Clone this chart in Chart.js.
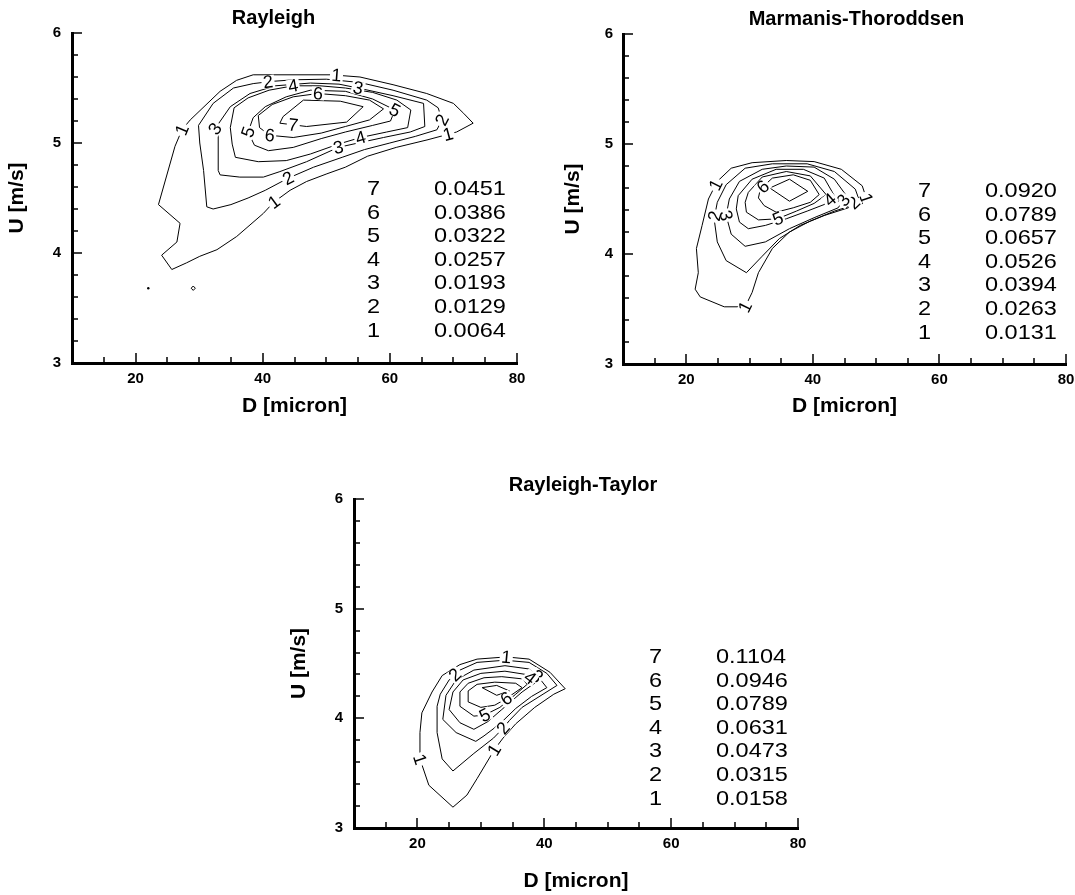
<!DOCTYPE html>
<html>
<head>
<meta charset="utf-8">
<title>Contours</title>
<script src="https://cdn.jsdelivr.net/npm/chart.js@4.4.1/dist/chart.umd.min.js"></script>
<style>
  html, body { margin: 0; padding: 0; background: #fff; overflow: hidden; }
  #page { position: relative; width: 1075px; height: 895px; }
  canvas { position: absolute; }
</style>
</head>
<body>
<div id="page">
  <canvas id="rayleigh" width="540" height="430" style="left:0px;top:0px"></canvas>
  <canvas id="marmanis" width="535" height="430" style="left:540px;top:0px"></canvas>
  <canvas id="taylor" width="540" height="455" style="left:280px;top:440px"></canvas>
</div>
<script>
// axes
const xTicks = [20, 40, 60, 80];
const yTicks = [3, 4, 5, 6];
const xMinorStep = 5;
const yMinorStep = 0.2;
const levelIds = [1, 2, 3, 4, 5, 6, 7];

// Rayleigh
const rayleighValues = [0.0064, 0.0129, 0.0193, 0.0257, 0.0322, 0.0386, 0.0451];
const rayleighContours = [
  [[25.7,3.85],[24.1,3.98],[26.5,4.10],[27.0,4.27],[23.6,4.44],[26.2,4.97],[27.3,5.12],[28.6,5.21],[33.3,5.47],[35.9,5.57],[38.5,5.62],[50.8,5.62],[55.3,5.60],[60.5,5.53],[65.8,5.45],[70.0,5.36],[71.6,5.27],[73.1,5.18],[70.5,5.10],[66.0,5.03],[61.0,4.96],[56.5,4.88],[53.0,4.78],[50.1,4.72],[46.9,4.65],[44.3,4.57],[41.7,4.46],[40.1,4.36],[35.9,4.15],[32.8,4.03],[30.1,3.97],[28.0,3.91]],
  [[41.4,5.56],[38.5,5.54],[35.4,5.50],[32.2,5.36],[29.9,5.16],[30.1,5.00],[30.7,4.75],[31.2,4.42],[32.2,4.40],[35.0,4.44],[37.7,4.50],[40.4,4.57],[44.0,4.68],[48.0,4.78],[52.5,4.87],[56.0,4.94],[60.0,5.00],[64.0,5.06],[67.4,5.12],[68.2,5.21],[67.6,5.32],[65.8,5.39],[60.5,5.48],[55.3,5.55],[50.0,5.58],[45.0,5.575]],
  [[32.5,5.13],[34.9,5.33],[38.0,5.45],[42.0,5.52],[47.5,5.545],[52.0,5.535],[55.0,5.50],[60.5,5.43],[65.3,5.36],[65.5,5.15],[63.2,5.10],[59.0,5.05],[55.0,5.00],[51.9,4.96],[46.9,4.83],[42.7,4.74],[40.1,4.69],[36.4,4.69],[33.3,4.71],[33.0,4.75],[33.0,5.06]],
  [[44.8,5.52],[41.0,5.48],[37.7,5.41],[35.5,5.32],[34.9,5.14],[35.2,4.99],[35.7,4.87],[39.3,4.83],[43.7,4.84],[47.5,4.90],[51.9,4.99],[55.4,5.05],[59.5,5.10],[62.8,5.14],[63.3,5.30],[61.1,5.39],[57.3,5.46],[53.0,5.50],[49.0,5.52]],
  [[37.7,5.10],[38.5,5.23],[40.4,5.33],[43.7,5.42],[47.5,5.48],[53.0,5.47],[57.3,5.40],[60.8,5.30],[60.1,5.20],[57.3,5.16],[53.0,5.10],[49.2,5.04],[44.8,4.96],[40.9,4.93],[38.7,4.98]],
  [[48.7,5.45],[53.0,5.43],[56.8,5.39],[59.0,5.31],[56.8,5.21],[53.0,5.15],[49.2,5.09],[44.8,5.05],[41.1,5.07],[39.5,5.14],[39.3,5.25],[41.5,5.35],[44.8,5.42]],
  [[42.7,5.18],[43.2,5.24],[46.4,5.39],[52.2,5.38],[55.8,5.33],[53.2,5.19],[46.9,5.15]]
];
const rayleighIslands = [[[28.75,3.68],[29.07,3.70],[29.4,3.68],[29.07,3.66]]];
const rayleighDots = [[22.0,3.68]];
const rayleighLabels = [
  [1,27.3,5.12],[1,51.6,5.61],[1,69.2,5.07],[1,41.7,4.47],
  [2,40.8,5.57],[2,44.0,4.68],[2,68.2,5.21],
  [3,32.5,5.13],[3,51.9,4.96],[3,55.0,5.50],
  [4,44.8,5.51],[4,55.4,5.05],
  [5,37.7,5.10],[5,60.8,5.30],
  [6,48.7,5.45],[6,41.1,5.07],
  [7,44.8,5.16]
];

// Marmanis-Thoroddsen
const marmanisValues = [0.0131, 0.0263, 0.0394, 0.0526, 0.0657, 0.0789, 0.0920];
const marmanisContours = [
  [[23.5,4.50],[24.9,4.66],[27.1,4.78],[30.4,4.83],[35.8,4.85],[40.2,4.84],[44.5,4.77],[47.8,4.62],[48.6,4.48],[46.7,4.45],[43.4,4.39],[39.6,4.30],[36.3,4.20],[33.6,4.05],[31.4,3.83],[30.4,3.65],[29.3,3.52],[26.0,3.52],[22.2,3.61],[21.4,3.68],[21.9,3.83],[21.6,4.05],[22.5,4.26]],
  [[24.9,4.47],[26.3,4.63],[29.3,4.78],[33.6,4.82],[39.1,4.82],[43.4,4.75],[46.7,4.59],[47.2,4.51],[45.6,4.42],[41.8,4.35],[38.0,4.26],[34.7,4.14],[32.0,3.98],[29.5,3.83],[26.3,3.94],[24.9,4.11],[24.4,4.32]],
  [[26.8,4.50],[28.4,4.66],[32.0,4.77],[35.8,4.80],[40.2,4.79],[43.4,4.68],[45.3,4.53],[44.0,4.42],[40.2,4.33],[36.3,4.23],[32.5,4.11],[29.3,4.07],[27.1,4.18],[26.3,4.35]],
  [[28.2,4.53],[30.4,4.68],[34.2,4.77],[38.5,4.77],[41.8,4.69],[43.4,4.53],[41.8,4.45],[39.1,4.39],[35.8,4.32],[32.5,4.26],[29.8,4.23],[28.4,4.29],[27.9,4.41]],
  [[29.8,4.56],[32.0,4.70],[35.8,4.75],[39.6,4.71],[42.1,4.54],[40.2,4.46],[37.4,4.39],[34.4,4.32],[31.4,4.31],[29.5,4.38],[29.3,4.47]],
  [[31.7,4.59],[33.6,4.69],[36.9,4.72],[39.6,4.67],[41.0,4.54],[39.6,4.47],[36.9,4.42],[34.2,4.38],[32.3,4.44],[31.4,4.51]],
  [[33.2,4.60],[36.3,4.68],[39.2,4.57],[36.3,4.48]]
];
const marmanisLabels = [
  [1,24.6,4.63],[1,29.3,3.52],[1,48.1,4.50],
  [2,46.2,4.48],[2,24.1,4.35],
  [3,44.5,4.50],[3,25.7,4.35],
  [4,42.6,4.50],
  [5,34.4,4.33],
  [6,32.0,4.62]
];

// Rayleigh-Taylor
const taylorValues = [0.0158, 0.0315, 0.0473, 0.0631, 0.0789, 0.0946, 0.1104];
const taylorContours = [
  [[20.4,3.87],[20.7,4.05],[22.3,4.24],[23.9,4.39],[26.7,4.49],[29.4,4.54],[34.0,4.56],[37.6,4.54],[40.9,4.42],[43.3,4.27],[41.5,4.22],[38.5,4.10],[35.5,3.95],[33.5,3.82],[32.2,3.72],[29.4,3.45],[27.8,3.30],[25.6,3.19],[21.8,3.39],[20.4,3.63]],
  [[23.1,3.87],[23.1,4.11],[23.6,4.22],[25.0,4.35],[26.7,4.44],[29.4,4.51],[33.8,4.53],[37.6,4.51],[40.4,4.41],[42.0,4.30],[39.8,4.22],[36.5,4.10],[34.5,3.98],[33.5,3.91],[32.0,3.82],[28.9,3.68],[25.6,3.52],[23.9,3.63]],
  [[24.0,3.99],[24.5,4.21],[26.1,4.35],[28.9,4.44],[33.8,4.48],[37.6,4.45],[39.3,4.36],[40.4,4.28],[38.0,4.20],[35.5,4.09],[33.0,3.95],[30.5,3.84],[29.2,3.79],[26.1,3.87]],
  [[25.0,4.08],[25.6,4.24],[27.2,4.35],[30.0,4.41],[33.8,4.43],[37.1,4.40],[38.7,4.33],[36.5,4.24],[33.3,4.08],[31.1,3.97],[28.9,3.90],[26.7,3.96]],
  [[26.7,4.11],[26.7,4.24],[28.0,4.32],[30.5,4.37],[33.3,4.38],[36.5,4.36],[37.3,4.31],[35.5,4.22],[33.0,4.10],[30.6,4.03],[28.9,4.02]],
  [[28.0,4.15],[28.0,4.25],[29.4,4.31],[32.2,4.33],[35.5,4.32],[36.5,4.28],[34.0,4.18],[32.2,4.12],[30.0,4.10]],
  [[30.2,4.28],[32.5,4.30],[34.5,4.25],[32.5,4.21]]
];
const taylorLabels = [
  [1,34.0,4.55],[1,20.1,3.62],[1,32.2,3.71],
  [2,25.9,4.40],[2,33.5,3.91],
  [3,38.8,4.38],[4,37.5,4.35],
  [5,30.6,4.03],[6,34.0,4.18]
];

const FONT = "'Liberation Sans', Arial, Helvetica, sans-serif";

function lineSet(path) {
  return {
    data: path.concat([path[0]]).map(([x, y]) => ({x, y})),
    showLine: true, fill: false, tension: 0,
    borderColor: '#000', borderWidth: 1, pointRadius: 0
  };
}

function nearestOnPath(pts, p) {
  let best = null;
  for (let i = 0; i < pts.length - 1; i++) {
    const a = pts[i], b = pts[i + 1];
    const dx = b.x - a.x, dy = b.y - a.y;
    const l2 = dx * dx + dy * dy || 1;
    let t = ((p.x - a.x) * dx + (p.y - a.y) * dy) / l2;
    t = Math.max(0, Math.min(1, t));
    const qx = a.x + t * dx, qy = a.y + t * dy;
    const d = (qx - p.x) ** 2 + (qy - p.y) ** 2;
    if (!best || d < best.d) best = {x: qx, y: qy, d, ang: Math.atan2(dy, dx)};
  }
  return best;
}

function makePanel(id, o) {
  const datasets = o.contours.map(lineSet);
  (o.islands || []).forEach(p => datasets.push(lineSet(p)));
  if (o.dots) {
    datasets.push({
      data: o.dots.map(([x, y]) => ({x, y})), showLine: false,
      pointRadius: 1.2, pointBackgroundColor: '#000', pointBorderWidth: 0
    });
  }

  const textPlugin = {
    id: 'panelText',
    afterDatasetsDraw(chart) {
      const {ctx, chartArea: ca} = chart;
      const xs = chart.scales.x, ys = chart.scales.y;
      ctx.save();

      // inward tick marks
      ctx.strokeStyle = '#000';
      ctx.lineWidth = 1.5;
      ctx.beginPath();
      for (let v = xs.min + xMinorStep; v <= xs.max + 1e-9; v += xMinorStep) {
        const px = Math.round(xs.getPixelForValue(v));
        const len = xTicks.includes(v) ? 10 : 6;
        ctx.moveTo(px, ca.bottom);
        ctx.lineTo(px, ca.bottom - len);
      }
      const nY = Math.round((ys.max - ys.min) / yMinorStep);
      for (let i = 1; i <= nY; i++) {
        const v = ys.min + i * yMinorStep;
        const py = Math.round(ys.getPixelForValue(v));
        const len = Math.abs(v - Math.round(v)) < 1e-6 ? 10 : 6;
        ctx.moveTo(ca.left, py);
        ctx.lineTo(ca.left + len, py);
      }
      ctx.stroke();

      // contour labels, set along their line
      ctx.font = '18px ' + FONT;
      ctx.textAlign = 'center';
      ctx.textBaseline = 'middle';
      o.labels.forEach(([lvl, d, u]) => {
        const pts = o.contours[lvl - 1].concat([o.contours[lvl - 1][0]])
          .map(([x, y]) => ({x: xs.getPixelForValue(x), y: ys.getPixelForValue(y)}));
        const q = nearestOnPath(pts, {x: xs.getPixelForValue(d), y: ys.getPixelForValue(u)});
        let ang = q.ang;
        if (ang > Math.PI / 2) ang -= Math.PI;
        if (ang < -Math.PI / 2) ang += Math.PI;
        const txt = String(levelIds[lvl - 1]);
        const w = ctx.measureText(txt).width;
        ctx.save();
        ctx.translate(q.x, q.y);
        ctx.rotate(ang);
        ctx.fillStyle = '#fff';
        ctx.fillRect(-w / 2 - 1.5, -6.5, w + 3, 13);
        ctx.fillStyle = '#000';
        ctx.fillText(txt, 0, 1);
        ctx.restore();
      });

      // title
      ctx.font = 'bold 20px ' + FONT;
      ctx.textAlign = 'center';
      ctx.textBaseline = 'alphabetic';
      ctx.fillStyle = '#000';
      ctx.fillText(o.title, (ca.left + ca.right) / 2 + o.titleDx, ca.top - o.titleDy);

      // level table
      ctx.font = '21px ' + FONT;
      ctx.textAlign = 'left';
      for (let i = levelIds.length - 1; i >= 0; i--) {
        const row = levelIds.length - 1 - i;
        const y = ca.top + o.tableY + row * 23.6;
        ctx.save();
        ctx.translate(ca.left + 295, y);
        ctx.scale(1.12, 1);
        ctx.fillText(String(levelIds[i]), 0, 0);
        ctx.restore();
        ctx.save();
        ctx.translate(ca.left + 362, y);
        ctx.scale(1.12, 1);
        ctx.fillText(o.values[i].toFixed(4), 0, 0);
        ctx.restore();
      }
      ctx.restore();
    }
  };

  return new Chart(document.getElementById(id), {
    type: 'scatter',
    data: {datasets},
    options: {
      responsive: false,
      animation: false,
      devicePixelRatio: 1,
      events: [],
      layout: {padding: o.pad},
      plugins: {legend: {display: false}, tooltip: {enabled: false}},
      scales: {
        x: {
          type: 'linear', min: 10, max: 80,
          afterBuildTicks: s => { s.ticks = xTicks.map(v => ({value: v})); },
          afterFit: s => { s.height = o.xHeight; s.paddingLeft = 0; s.paddingRight = 0; },
          grid: {display: false, drawTicks: false},
          border: {display: true, color: '#000', width: 3},
          ticks: {color: '#000', padding: 7, autoSkip: false, maxRotation: 0,
                  font: {family: FONT, size: 15, weight: 'bold'}},
          title: {display: true, text: 'D [micron]', color: '#000',
                  font: {family: FONT, size: 21, weight: 'bold'},
                  padding: {top: 0, bottom: o.xTitlePad}}
        },
        y: {
          type: 'linear', min: 3, max: 6,
          afterBuildTicks: s => { s.ticks = yTicks.map(v => ({value: v})); },
          afterFit: s => { s.width = o.yWidth; s.paddingTop = 0; s.paddingBottom = 0; },
          grid: {display: false, drawTicks: false},
          border: {display: true, color: '#000', width: 3},
          ticks: {color: '#000', padding: o.yTickPad, autoSkip: false,
                  font: {family: FONT, size: 15, weight: 'bold'}},
          title: {display: true, text: 'U [m/s]', color: '#000',
                  font: {family: FONT, size: 21, weight: 'bold'},
                  padding: {top: o.yTitlePad, bottom: 0}}
        }
      }
    },
    plugins: [textPlugin]
  });
}

makePanel('rayleigh', {
  title: 'Rayleigh', values: rayleighValues, contours: rayleighContours,
  islands: rayleighIslands, dots: rayleighDots, labels: rayleighLabels,
  pad: {left: 0, top: 33, right: 23, bottom: 0}, yWidth: 72, xHeight: 67,
  yTitlePad: 5, xTitlePad: 11.4, yTickPad: 11, titleDx: -21, titleDy: 9, tableY: 162
});

makePanel('marmanis', {
  title: 'Marmanis-Thoroddsen', values: marmanisValues, contours: marmanisContours,
  labels: marmanisLabels,
  pad: {left: 0, top: 34, right: 9, bottom: 0}, yWidth: 83, xHeight: 66,
  yTitlePad: 20.4, xTitlePad: 11.4, yTickPad: 10, titleDx: 12, titleDy: 9, tableY: 163
});

makePanel('taylor', {
  title: 'Rayleigh-Taylor', values: taylorValues, contours: taylorContours,
  labels: taylorLabels,
  pad: {left: 0, top: 59, right: 22, bottom: 0}, yWidth: 74, xHeight: 67,
  yTitlePad: 6.4, xTitlePad: 1.6, yTickPad: 11, titleDx: 7, titleDy: 8.3, tableY: 164
});
</script>
</body>
</html>
